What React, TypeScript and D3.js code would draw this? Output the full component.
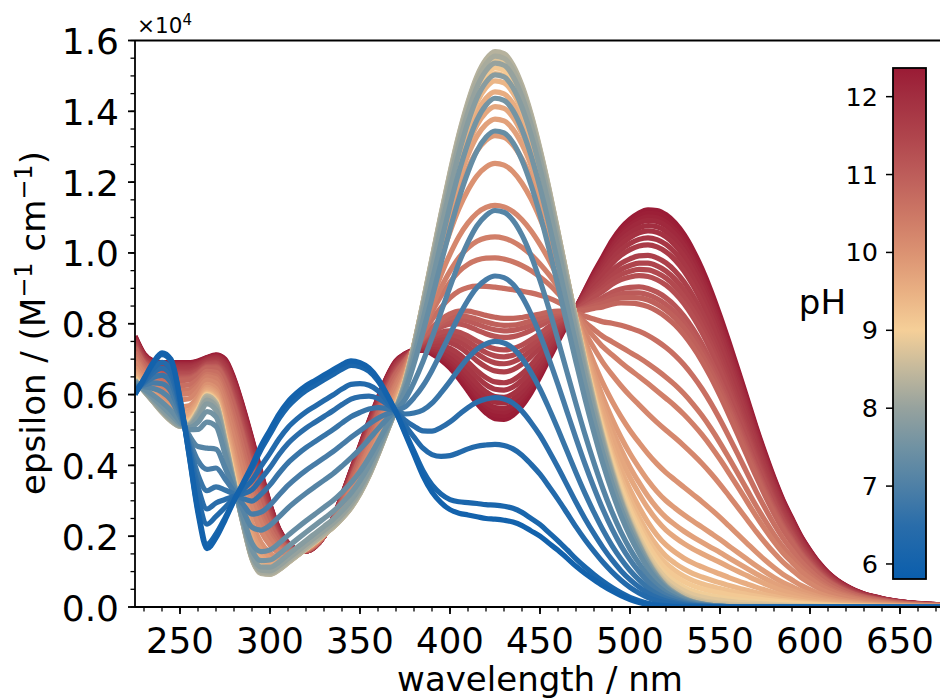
import React from "react";
import * as d3 from "d3";

// wavelength grid (nm)
const wavelengths = [
  225, 230, 235, 240, 245, 250, 255, 260, 265, 270, 275, 280, 285, 290, 295, 300,
  305, 310, 315, 320, 325, 330, 335, 340, 345, 350, 355, 360, 365, 370, 375, 380,
  385, 390, 395, 400, 405, 410, 415, 420, 425, 430, 435, 440, 445, 450, 455, 460,
  465, 470, 475, 480, 485, 490, 495, 500, 505, 510, 515, 520, 525, 530, 535, 540,
  545, 550, 555, 560, 565, 570, 575, 580, 585, 590, 595, 600, 605, 610, 615, 620,
  625, 630, 635, 640, 645, 650, 655, 660, 665, 670, 675,
];

// acid form spectrum (pH 6), x10^4
const epsAcid = [
  0.6, 0.645, 0.69, 0.718, 0.7, 0.59, 0.43, 0.265, 0.165, 0.195, 0.245, 0.3, 0.35, 0.4, 0.455, 0.5,
  0.545, 0.58, 0.605, 0.625, 0.64, 0.655, 0.67, 0.685, 0.695, 0.69, 0.675, 0.645, 0.6, 0.55, 0.49, 0.43,
  0.37, 0.325, 0.295, 0.275, 0.265, 0.26, 0.255, 0.25, 0.248, 0.245, 0.24, 0.23, 0.215, 0.2, 0.18, 0.16,
  0.138, 0.115, 0.095, 0.077, 0.06, 0.045, 0.032, 0.021, 0.013, 0.007, 0.004, 0.002, 0.001, 0, 0, 0,
  0, 0, 0, 0, 0, 0, 0, 0, 0, 0, 0, 0, 0, 0, 0, 0,
  0, 0, 0, 0, 0, 0, 0, 0, 0, 0, 0,
];

// neutral form spectrum (pH ~8.4), x10^4
const epsNeutral = [
  0.64, 0.61, 0.58, 0.55, 0.525, 0.51, 0.515, 0.55, 0.595, 0.575, 0.47, 0.35, 0.235, 0.135, 0.095, 0.092,
  0.105, 0.125, 0.145, 0.165, 0.185, 0.205, 0.225, 0.25, 0.28, 0.32, 0.37, 0.43, 0.495, 0.56, 0.635, 0.74,
  0.86, 0.985, 1.11, 1.228, 1.336, 1.427, 1.5, 1.547, 1.569, 1.563, 1.531, 1.473, 1.393, 1.294, 1.182, 1.06,
  0.934, 0.81, 0.689, 0.577, 0.474, 0.383, 0.304, 0.237, 0.18, 0.13, 0.09, 0.06, 0.04, 0.025, 0.015, 0.009,
  0.005, 0.003, 0.001, 0, 0, 0, 0, 0, 0, 0, 0, 0, 0, 0, 0, 0,
  0, 0, 0, 0, 0, 0, 0, 0, 0, 0, 0,
];

// basic form spectrum (pH 12.35), x10^4
const epsBase = [
  0.765, 0.715, 0.695, 0.69, 0.69, 0.69, 0.69, 0.695, 0.705, 0.712, 0.7, 0.645, 0.565, 0.475, 0.38, 0.29,
  0.22, 0.18, 0.162, 0.158, 0.17, 0.2, 0.25, 0.315, 0.385, 0.455, 0.525, 0.59, 0.65, 0.695, 0.715, 0.725,
  0.725, 0.715, 0.698, 0.675, 0.645, 0.61, 0.575, 0.548, 0.532, 0.53, 0.542, 0.568, 0.605, 0.65, 0.7, 0.75,
  0.798, 0.845, 0.895, 0.945, 0.99, 1.035, 1.07, 1.095, 1.113, 1.122, 1.12, 1.108, 1.085, 1.052, 1.008, 0.955,
  0.893, 0.823, 0.748, 0.67, 0.59, 0.51, 0.435, 0.365, 0.302, 0.25, 0.2, 0.16, 0.125, 0.097, 0.076, 0.06,
  0.047, 0.037, 0.03, 0.024, 0.019, 0.015, 0.012, 0.01, 0.008, 0.007, 0.006,
];

// titration curves: pH and species fractions
const curvePH = [
  6.0, 6.15, 6.35, 6.5, 6.7, 6.9, 7.1, 7.35, 7.55, 7.8, 8.0, 8.2, 8.35,
  8.5, 8.65, 8.8, 8.95, 9.1, 9.25, 9.4, 9.55, 9.65, 9.75, 9.85, 10.0, 10.2, 10.35,
  10.5, 10.65, 10.85, 10.95, 11.05, 11.15, 11.3, 11.4, 11.5, 11.6, 11.7, 11.8, 11.9,
  12.0, 12.1, 12.2, 12.3, 12.35,
];
const fracAcid = [
  1, 0.97, 0.84, 0.74, 0.62, 0.48, 0.34, 0.17, 0.1, 0.05, 0.025, 0.01, 0,
  0, 0, 0, 0, 0, 0, 0, 0, 0, 0, 0, 0, 0, 0,
  0, 0, 0, 0, 0, 0, 0, 0, 0, 0, 0, 0, 0,
  0, 0, 0, 0, 0,
];
const fracBase = [
  0, 0, 0, 0, 0, 0, 0, 0, 0, 0, 0, 0, 0,
  0.005, 0.01, 0.02, 0.03, 0.045, 0.06, 0.08, 0.11, 0.15, 0.184, 0.229, 0.305, 0.419, 0.505,
  0.562, 0.642, 0.724, 0.743, 0.758, 0.776, 0.81, 0.829, 0.848, 0.87, 0.9, 0.92, 0.94,
  0.955, 0.97, 0.98, 0.99, 1.0,
];

const xTicks = [250, 300, 350, 400, 450, 500, 550, 600, 650];
const xMinor = d3.range(230, 676, 10);
const yTicks = [0, 0.2, 0.4, 0.6, 0.8, 1.0, 1.2, 1.4, 1.6];
const yMinor = d3.range(0, 1.6001, 0.05);
const cbTicks = [6, 7, 8, 9, 10, 11, 12];

// colormap stops
const cmapPH = [5.8, 6.5, 7.0, 7.5, 8.0, 8.5, 9.0, 9.5, 10.0, 10.5, 11.0, 11.5, 12.0, 12.37];
const cmapColors = [
  "#0a5ead", "#2a6daa", "#4e80a6", "#7092a3", "#96a29e", "#c4b99c", "#f5cf98",
  "#e9b083", "#db9272", "#cc7765", "#bd5d5a", "#af444c", "#a22e40", "#9a1b35",
];

const FONT = "DejaVu Sans, sans-serif";

export default function App() {
  const x = d3.scaleLinear().domain([225, 675]).range([135, 945]);
  const y = d3.scaleLinear().domain([0, 1.6]).range([607, 40.5]);
  const color = d3
    .scaleLinear<string>()
    .domain(cmapPH)
    .range(cmapColors)
    .interpolate(d3.interpolateRgb)
    .clamp(true);
  const cb = d3.scaleLinear().domain([5.807, 12.368]).range([579, 68]);

  const series = curvePH.map((ph, i) => {
    const fa = fracAcid[i];
    const fc = fracBase[i];
    const fb = 1 - fa - fc;
    return {
      ph,
      values: wavelengths.map((_, j) => fa * epsAcid[j] + fb * epsNeutral[j] + fc * epsBase[j]),
    };
  });
  const ordered = series.slice().sort((a, b) => b.ph - a.ph);
  const line = d3
    .line<number>()
    .x((_, j) => x(wavelengths[j]))
    .y((d) => y(d))
    .curve(d3.curveMonotoneX);

  const [cb0, cb1] = cb.domain();
  const gradStops = cmapPH.map((p, i) => ({
    off: Math.max(0, Math.min(1, (p - cb0) / (cb1 - cb0))),
    c: cmapColors[i],
  }));

  const axisColor = "#000";
  return (
    <svg
      width={940}
      height={700}
      style={{ position: "absolute", left: 0, top: 0, background: "#fff" }}
      fontFamily={FONT}
    >
      <defs>
        <clipPath id="plotclip">
          <rect x={135} y={40.5} width={810} height={566.5} />
        </clipPath>
        <linearGradient id="cbgrad" x1="0" y1="1" x2="0" y2="0">
          {gradStops.map((s, i) => (
            <stop key={i} offset={s.off} stopColor={s.c} />
          ))}
        </linearGradient>
      </defs>
      <rect x={0} y={0} width={940} height={700} fill="#fff" />

      <g clipPath="url(#plotclip)">
        {ordered.map((s, i) => (
          <path
            key={i}
            d={line(s.values) || ""}
            fill="none"
            stroke={color(s.ph)}
            strokeWidth={5.2}
            strokeLinejoin="round"
            strokeLinecap="butt"
          />
        ))}
      </g>

      {/* spines */}
      <line x1={135} x2={135} y1={40.5} y2={607} stroke={axisColor} strokeWidth={1.8} />
      <line x1={135} x2={945} y1={607} y2={607} stroke={axisColor} strokeWidth={1.8} />
      <line x1={135} x2={945} y1={40.5} y2={40.5} stroke={axisColor} strokeWidth={1.8} />

      {/* x ticks */}
      {xMinor.map((t) => (
        <line key={"xm" + t} x1={x(t)} x2={x(t)} y1={607} y2={611.5} stroke={axisColor} strokeWidth={1.3} />
      ))}
      {xTicks.map((t) => (
        <g key={"x" + t}>
          <line x1={x(t)} x2={x(t)} y1={607} y2={614} stroke={axisColor} strokeWidth={1.8} />
          <text x={x(t)} y={653} textAnchor="middle" fontSize={35.5} fill="#000">
            {t}
          </text>
        </g>
      ))}
      {/* y ticks */}
      {yMinor.map((t, i) => (
        <line key={"ym" + i} x1={130.5} x2={135} y1={y(t)} y2={y(t)} stroke={axisColor} strokeWidth={1.3} />
      ))}
      {yTicks.map((t) => (
        <g key={"y" + t}>
          <line x1={128} x2={135} y1={y(t)} y2={y(t)} stroke={axisColor} strokeWidth={1.8} />
          <text x={119} y={y(t) + 13.5} textAnchor="end" fontSize={36} fill="#000">
            {t.toFixed(1)}
          </text>
        </g>
      ))}

      <text x={137} y={33} fontSize={21.5} fill="#000">
        ×10
        <tspan dy={-8.5} fontSize={15}>
          4
        </tspan>
      </text>

      <text x={540} y={691} textAnchor="middle" fontSize={34} fill="#000">
        wavelength / nm
      </text>
      <text transform="translate(45,323) rotate(-90)" textAnchor="middle" fontSize={34} fill="#000">
        epsilon / (M
        <tspan dy={-13} fontSize={24}>
          −1
        </tspan>
        <tspan dy={13}> cm</tspan>
        <tspan dy={-13} fontSize={24}>
          −1
        </tspan>
        <tspan dy={13}>)</tspan>
      </text>

      {/* colorbar */}
      <rect x={893} y={68} width={33} height={511} fill="url(#cbgrad)" stroke="#000" strokeWidth={1.8} />
      {cbTicks.map((t) => (
        <g key={"cb" + t}>
          <line x1={886} x2={893} y1={cb(t)} y2={cb(t)} stroke="#000" strokeWidth={1.5} />
          <text x={878} y={cb(t) + 9} textAnchor="end" fontSize={25.5} fill="#000">
            {t}
          </text>
        </g>
      ))}
      <text x={846} y={314} textAnchor="end" fontSize={34} fill="#000">
        pH
      </text>
    </svg>
  );
}
